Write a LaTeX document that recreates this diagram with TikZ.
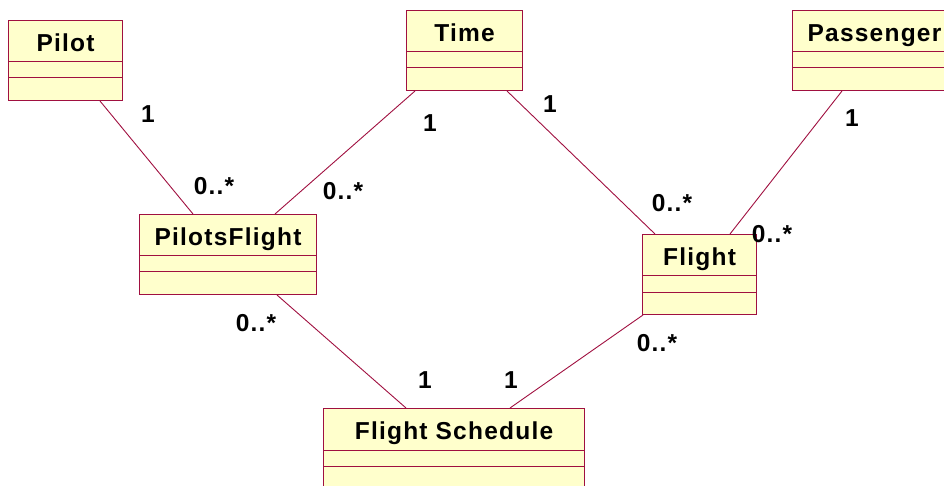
\documentclass[tikz,border=0pt]{standalone}
\usepackage{fontspec}
\setmainfont{Liberation Sans}[LetterSpace=5]
\definecolor{umlred}{RGB}{160,16,64}
\definecolor{umlfill}{RGB}{255,255,204}
\begin{document}
\begin{tikzpicture}[x=1bp,y=-1bp,
  cls/.style={draw=umlred, fill=umlfill, line width=1bp, rectangle, inner sep=0pt, anchor=north west},
  div/.style={draw=umlred, line width=1bp},
  conn/.style={draw=umlred, line width=0.9bp},
  title/.style={anchor=base, inner sep=0pt, font=\fontsize{24.5bp}{28bp}\selectfont\bfseries},
  mult/.style={anchor=base, inner sep=0pt, font=\fontsize{24.5bp}{28bp}\selectfont\bfseries}]
\useasboundingbox (0,0) rectangle (944,486);
% classes
\node[cls, minimum width=114bp, minimum height=80bp] (pilot) at (8,20) {};
\node[cls, minimum width=116bp, minimum height=80bp] (time) at (406,10) {};
\node[cls, minimum width=160bp, minimum height=80bp] (pass) at (792,10) {};
\node[cls, minimum width=177bp, minimum height=80bp] (pf) at (139,214) {};
\node[cls, minimum width=114bp, minimum height=80bp] (flight) at (642,234) {};
\node[cls, minimum width=261bp, minimum height=90bp] (fs) at (323,408) {};
\foreach \n in {pilot,time,pass,pf,flight,fs}{
  \draw[div] ([yshift=-42bp]\n.north west) -- ([yshift=-42bp]\n.north east);
  \draw[div] ([yshift=-58bp]\n.north west) -- ([yshift=-58bp]\n.north east);
}
\node[title] (pilotT) at ([yshift=-31.5bp]pilot.north) {Pilot};
\node[title] (timeT) at ([yshift=-31.5bp]time.north) {Time};
\node[title] (passT) at ([yshift=-31.5bp,xshift=2bp]pass.north) {Passenger};
\node[title] (pfT) at ([yshift=-31.5bp]pf.north) {PilotsFlight};
\node[title] (flightT) at ([yshift=-31.5bp]flight.north) {Flight};
\node[title] (fsT) at ([yshift=-31.5bp]fs.north) {Flight Schedule};
% connectors
\draw[conn] ([xshift=92bp]pilot.south west) -- ([xshift=54bp]pf.north west);
\draw[conn] ([xshift=9bp]time.south west) -- ([xshift=136bp]pf.north west);
\draw[conn] ([xshift=101bp]time.south west) -- ([xshift=13bp]flight.north west);
\draw[conn] ([xshift=50bp]pass.south west) -- ([xshift=88bp]flight.north west);
\draw[conn] ([xshift=138bp]pf.south west) -- ([xshift=83bp]fs.north west);
\draw[conn] ([xshift=1bp]flight.south west) -- ([xshift=187bp]fs.north west);
% multiplicities
\node[mult] (m1) at (148,123) {1};
\node[mult] (m2) at (214,195) {0..*};
\node[mult] (m3) at (343,200) {0..*};
\node[mult] (m4) at (430,132) {1};
\node[mult] (m5) at (550,113) {1};
\node[mult] (m6) at (672,212) {0..*};
\node[mult] (m7) at (852,127) {1};
\node[mult] (m8) at (772,243) {0..*};
\node[mult] (m9) at (256,332) {0..*};
\node[mult] (m10) at (425,388) {1};
\node[mult] (m11) at (511,388) {1};
\node[mult] (m12) at (657,352) {0..*};
\end{tikzpicture}
\end{document}
